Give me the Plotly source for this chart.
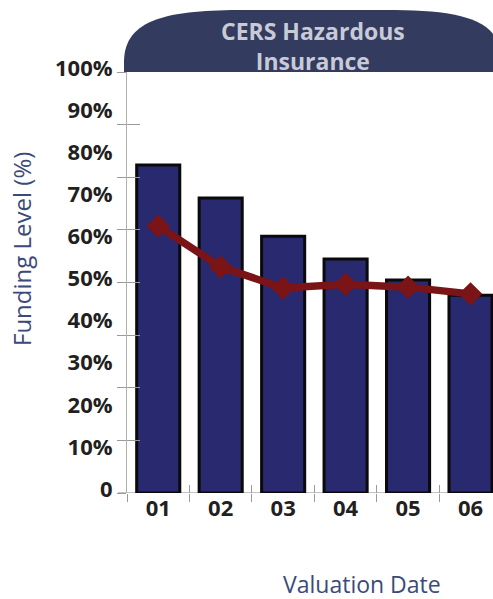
import plotly.graph_objects as go

# datos
fechas = ["01", "02", "03", "04", "05", "06"]
nivel_fondo = [77.9, 70.1, 61.0, 55.6, 50.6, 47.0]
linea_valores = [63.4, 53.7, 48.7, 49.6, 48.9, 47.3]
etiquetas_y = ["0", "10%", "20%", "30%", "40%", "50%", "60%", "70%", "80%", "90%", "100%"]
valores_y = [0, 10, 20, 30, 40, 50, 60, 70, 80, 90, 100]
marcas_y = [0, 12.5, 25, 37.5, 50, 62.5, 75, 87.5, 100]
titulo = "CERS Hazardous<br>Insurance"

# geometria en pixeles del area de grafico
W, H = 493, 599
L, R, T, B = 127, 0, 72, 106
pw = W - L - R
ph = H - T - B


def px(x):
    return (x - L) / pw


def py(y):
    return (H - B - y) / ph


fig = go.Figure()

fig.add_trace(
    go.Bar(
        x=fechas,
        y=nivel_fondo,
        width=0.69,
        marker=dict(color="#28296f", line=dict(color="#0a0a0a", width=3)),
        showlegend=False,
    )
)
fig.add_trace(
    go.Scatter(
        x=fechas,
        y=linea_valores,
        mode="lines+markers",
        line=dict(color="#7b1417", width=7.5),
        marker=dict(symbol="diamond", size=18, color="#7b1417"),
        showlegend=False,
    )
)
# ejes vacios solo para las marcas que cruzan el eje
fig.add_trace(go.Scatter(x=[None], y=[None], xaxis="x2", yaxis="y2", showlegend=False))
fig.add_trace(go.Scatter(x=[None], y=[None], xaxis="x2", yaxis="y3", showlegend=False))

# pestaña del titulo
x0, x1 = px(124), px(502)
yb, yt = py(72), py(10)
path = (
    f"M {x0},{yb} L {x0},{py(62)} "
    f"C {x0},{py(18)} {px(170)},{yt} {px(245)},{yt} "
    f"L {px(385)},{yt} "
    f"C {px(460)},{yt} {x1},{py(18)} {x1},{py(62)} "
    f"L {x1},{yb} Z"
)

fig.update_layout(
    width=W,
    height=H,
    margin=dict(l=L, r=R, t=T, b=B),
    paper_bgcolor="white",
    plot_bgcolor="white",
    xaxis=dict(
        type="category",
        range=[-0.5, 5.36],
        tickson="boundaries",
        ticks="outside",
        ticklen=8,
        tickcolor="#9a9a9a",
        showgrid=False,
        showline=False,
        zeroline=False,
        tickfont=dict(family="Open Sans", size=22, color="#231f20", weight=700),
    ),
    xaxis2=dict(
        type="category",
        overlaying="x",
        matches="x",
        range=[-0.5, 5.36],
        categoryarray=fechas,
        tickmode="array",
        tickvals=fechas,
        tickson="boundaries",
        ticks="inside",
        ticklen=8,
        tickcolor="#9a9a9a",
        showticklabels=False,
        showgrid=False,
        zeroline=False,
    ),
    yaxis=dict(
        range=[0, 100],
        tickmode="array",
        tickvals=valores_y,
        ticktext=etiquetas_y,
        ticks="",
        ticklabelshift=-4,
        ticklabelstandoff=9,
        showgrid=False,
        zeroline=False,
        showline=True,
        linecolor="#b0b0b0",
        linewidth=1,
        tickfont=dict(family="Open Sans", size=22, color="#231f20", weight=700),
    ),
    yaxis2=dict(
        overlaying="y",
        range=[0, 100],
        tickmode="array",
        tickvals=marcas_y,
        ticks="outside",
        ticklen=9,
        tickcolor="#9a9a9a",
        showticklabels=False,
        showgrid=False,
        zeroline=False,
    ),
    yaxis3=dict(
        overlaying="y",
        range=[0, 100],
        tickmode="array",
        tickvals=marcas_y,
        ticks="inside",
        ticklen=13,
        tickcolor="#9a9a9a",
        showticklabels=False,
        showgrid=False,
        zeroline=False,
    ),
    shapes=[
        dict(type="path", xref="paper", yref="paper", path=path,
             fillcolor="#333b5e", line=dict(width=0), layer="above"),
        dict(type="line", xref="paper", yref="y", x0=px(118), x1=1, y0=0, y1=0,
             line=dict(color="#8a8a8a", width=1), layer="below"),
    ],
    annotations=[
        dict(text=titulo, xref="paper", yref="paper", x=px(313), y=py(46),
             xanchor="center", yanchor="middle", showarrow=False, align="center",
             font=dict(family="Open Sans", size=23, color="#c9cad8", weight=700)),
        dict(text="Funding Level (%)", xref="paper", yref="paper", x=px(22), y=py(249),
             xanchor="center", yanchor="middle", textangle=-90, showarrow=False,
             font=dict(family="Open Sans", size=24, color="#3c4a7a")),
        dict(text="Valuation Date", xref="paper", yref="paper", x=px(362), y=py(584),
             xanchor="center", yanchor="middle", showarrow=False,
             font=dict(family="Open Sans", size=23, color="#3c4a7a")),
    ],
)

fig.write_html("out.html", config={"displayModeBar": False},
               post_script="document.body.style.margin='0';")
